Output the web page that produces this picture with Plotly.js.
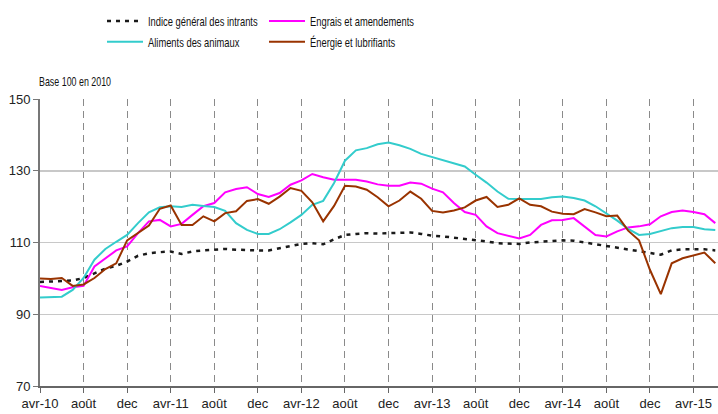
<!DOCTYPE html>
<html>
<head>
<meta charset="utf-8">
<script src="https://cdn.plot.ly/plotly-3.0.1.min.js"></script>
<style>html,body{margin:0;padding:0;background:#fff;}#chart{width:718px;height:414px;}</style>
</head>
<body>
<div id="chart"></div>
<script>
const months = [
 '2010-04','2010-05','2010-06','2010-07','2010-08','2010-09','2010-10','2010-11','2010-12',
 '2011-01','2011-02','2011-03','2011-04','2011-05','2011-06','2011-07','2011-08','2011-09','2011-10','2011-11','2011-12',
 '2012-01','2012-02','2012-03','2012-04','2012-05','2012-06','2012-07','2012-08','2012-09','2012-10','2012-11','2012-12',
 '2013-01','2013-02','2013-03','2013-04','2013-05','2013-06','2013-07','2013-08','2013-09','2013-10','2013-11','2013-12',
 '2014-01','2014-02','2014-03','2014-04','2014-05','2014-06','2014-07','2014-08','2014-09','2014-10','2014-11','2014-12',
 '2015-01','2015-02','2015-03','2015-04','2015-05','2015-06'
];
const tickMonths = ['2010-04','2010-08','2010-12','2011-04','2011-08','2011-12','2012-04','2012-08','2012-12','2013-04','2013-08','2013-12','2014-04','2014-08','2014-12','2015-04'];
const tickLabels = ['avr-10','août','dec','avr-11','août','dec','avr-12','août','dec','avr-13','août','dec','avr-14','août','dec','avr-15'];

const indiceGeneral = [99.0,99.1,99.3,99.4,100.1,101.3,102.7,103.5,104.7,106.3,107.0,107.3,107.5,106.8,107.5,107.8,108.0,108.2,108.0,107.8,107.8,107.8,108.4,109.1,109.6,109.8,109.5,110.9,112.1,112.4,112.6,112.5,112.6,112.6,112.8,112.4,111.9,111.7,111.4,110.9,110.8,110.3,109.8,109.6,109.6,110.0,110.2,110.4,110.6,110.5,110.0,109.6,109.1,108.7,108.1,107.5,107.0,106.6,107.8,108.1,108.1,108.1,107.8];
const engrais = [97.9,97.3,96.8,97.5,97.9,103.3,105.6,107.8,108.9,112.6,115.9,116.3,114.5,115.2,117.7,120.1,121.0,124.0,124.9,125.4,123.5,122.7,123.8,126.1,127.3,129.1,128.2,127.5,127.5,127.5,127.0,126.2,125.8,125.8,126.7,126.4,125.0,124.0,121.0,118.5,117.7,114.5,112.6,111.9,111.1,112.1,114.9,116.2,116.3,116.8,114.5,112.1,111.7,113.1,114.2,114.5,115.1,117.3,118.5,118.9,118.5,117.9,115.4];
const aliments = [94.7,94.7,94.9,96.8,100.1,105.2,108.2,110.2,112.1,115.4,118.4,119.8,120.1,119.9,120.5,120.2,119.9,118.8,115.4,113.5,112.4,112.4,113.7,115.6,117.7,120.5,121.6,126.6,132.8,135.7,136.3,137.4,137.9,137.1,136.1,134.7,133.8,132.8,132.1,131.2,128.9,126.7,124.2,122.2,122.1,122.1,122.1,122.6,122.8,122.4,121.7,120.1,118.2,116.1,113.8,112.1,112.4,113.1,114.0,114.3,114.3,113.7,113.5];
const energie = [100.0,99.8,100.1,97.9,98.3,100.1,102.6,104.2,110.6,112.6,114.7,119.4,120.3,114.9,114.9,117.3,115.9,118.2,118.7,121.6,122.1,120.8,122.8,125.2,124.4,121.2,115.9,120.2,125.8,125.6,124.7,122.6,120.1,121.7,124.2,122.2,118.8,118.4,118.9,119.8,121.7,122.7,119.9,120.5,122.3,120.5,120.1,118.6,118.0,117.9,119.3,118.4,117.3,117.5,113.3,110.6,102.4,95.6,104.2,105.6,106.3,107.2,104.2];
const yTicks = [70,90,110,130,150];

const regular = '"Liberation Sans", Arial, sans-serif';

const traces = [
  {x: months, y: indiceGeneral, name: 'Indice général des intrants', mode: 'lines',
   line: {color: '#1a1a1a', width: 2.5, dash: '4px,5px'}, legend: 'legend', legendgroup: 'a'},
  {x: months, y: engrais, name: 'Engrais et amendements', mode: 'lines',
   line: {color: '#ff00ff', width: 2}, legend: 'legend2', legendgroup: 'c'},
  {x: months, y: aliments, name: 'Aliments des animaux', mode: 'lines',
   line: {color: '#33cccc', width: 2}, legend: 'legend', legendgroup: 'b'},
  {x: months, y: energie, name: 'Énergie et lubrifiants', mode: 'lines',
   line: {color: '#993300', width: 2}, legend: 'legend2', legendgroup: 'd'}
];

const legendBase = {
  xref: 'container', yref: 'container', xanchor: 'left', yanchor: 'top',
  orientation: 'v', traceorder: 'grouped', tracegroupgap: 1,
  font: {family: regular, size: 13, color: '#111'}, bgcolor: 'rgba(0,0,0,0)', borderwidth: 0
};

const layout = {
  width: 718, height: 414,
  margin: {l: 40, r: 0, t: 99, b: 28, pad: 0, autoexpand: false},
  paper_bgcolor: '#fff', plot_bgcolor: '#fff',
  showlegend: true,
  legend: Object.assign({}, legendBase, {x: 102/718, y: 1 - 6/414}),
  legend2: Object.assign({}, legendBase, {x: 264/718, y: 1 - 6/414}),
  xaxis: {
    type: 'category', range: [0, 62.25], categoryorder: 'array', categoryarray: months,
    tickmode: 'array', tickvals: tickMonths, ticktext: tickLabels, tickangle: 0, automargin: false,
    showgrid: true, gridcolor: '#8a8a8a', gridwidth: 1, griddash: '7px,5px',
    showline: true, linecolor: '#666', linewidth: 1.5,
    ticks: 'outside', ticklen: 5, tickcolor: '#666', tickwidth: 1,
    tickfont: {family: regular, size: 13, color: '#222'}, zeroline: false
  },
  yaxis: {
    range: [70, 150], tickmode: 'array', tickvals: yTicks, automargin: false,
    showgrid: true, gridcolor: '#c8c8c8', gridwidth: 1.5,
    showline: true, linecolor: '#777', linewidth: 2,
    ticks: 'outside', ticklen: 5, tickcolor: '#777', tickwidth: 1,
    tickfont: {family: regular, size: 13, color: '#222'}, zeroline: false
  },
  annotations: [{
    text: 'Base 100 en 2010', xref: 'paper', yref: 'paper',
    x: -3/678, y: (386 - 82)/287, xanchor: 'left', yanchor: 'middle', showarrow: false,
    font: {family: regular, size: 12, color: '#111'}
  }]
};

// horizontal condensing of the narrow legend / note text, as in the reference
function condense(el, s, shift) {
  if (el.getAttribute('data-cond')) return;
  const b = el.getBBox();
  const x0 = b.x;
  el.setAttribute('transform', 'translate(' + (x0 + shift) + ' 0) scale(' + s + ' 1) translate(' + (-x0) + ' 0)');
  el.setAttribute('data-cond', '1');
}
function restyleText(gd) {
  gd.querySelectorAll('g.legend text, g.legend2 text, .legendtext, .legend2text').forEach(function (t) { condense(t, 0.72, 6); });
  gd.querySelectorAll('g.legend path.js-line, g.legend2 path.js-line, .legendlines path').forEach(function (p) { p.setAttribute('d', 'M5,0h36'); });
  gd.querySelectorAll('.annotation-text').forEach(function (t) { condense(t, 0.74, 0); });
}

const gdEl = document.getElementById('chart');
Plotly.newPlot(gdEl, traces, layout, {staticPlot: true, displayModeBar: false}).then(function (gd) {
  restyleText(gd);
  gd.on('plotly_afterplot', function () { restyleText(gd); });
  setTimeout(function () { restyleText(gd); }, 30);
  setTimeout(function () { restyleText(gd); }, 200);
});
</script>
</body>
</html>
